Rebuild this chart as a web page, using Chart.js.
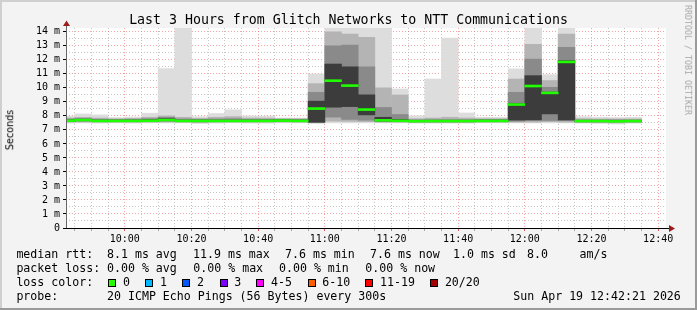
<!DOCTYPE html>
<html>
<head>
<meta charset="utf-8">
<script src="https://cdn.jsdelivr.net/npm/chart.js@4.4.1/dist/chart.umd.min.js"></script>
<style>
  html, body { margin: 0; padding: 0; background: #f3f3f3; }
  #wrap { position: relative; width: 697px; height: 310px; overflow: hidden; }
  #wrap canvas { position: absolute; left: 0; top: 0; }
  .txt { position: absolute; white-space: pre; line-height: 1; font-family: "DejaVu Sans Mono", monospace; color: #000; }
  .box { position: absolute; width: 8px; height: 8px; box-sizing: border-box; border: 1px solid #000; }
</style>
</head>
<body>
<div id="wrap">
  <canvas id="chart" width="697" height="310"></canvas>
</div>
<script>
// 5 minute slots (start time), 20 pings each
const slotStart = ['09:40', '09:45', '09:50', '09:55',
  '10:00', '10:05', '10:10', '10:15', '10:20', '10:25', '10:30', '10:35', '10:40', '10:45', '10:50', '10:55',
  '11:00', '11:05', '11:10', '11:15', '11:20', '11:25', '11:30', '11:35', '11:40', '11:45', '11:50', '11:55',
  '12:00', '12:05', '12:10', '12:15', '12:20', '12:25', '12:30'];

// smoke bands, in ms (outer = min/max, then narrower spreads round the median)
const minRtt = [7.48, 7.50, 7.48, 7.50, 7.48, 7.50, 7.50, 7.50, 7.45, 7.48, 7.50, 7.48, 7.48, 7.50, 7.50, 7.48,
  7.50, 7.50, 7.50, 7.50, 7.50, 7.48, 7.48, 7.48, 7.48, 7.50, 7.50, 7.50, 7.50, 7.50, 7.50, 7.48, 7.45, 7.42, 7.48];
const maxRtt = [7.98, 8.14, 8.07, 7.88, 7.92, 8.19, 11.37, 15.0, 7.95, 8.17, 8.43, 8.00, 7.98, 7.85, 7.85, 10.99,
  15.0, 14.24, 14.24, 15.0, 9.92, 8.00, 10.63, 13.55, 8.21, 7.90, 7.90, 11.35, 15.0, 10.94, 15.0, 7.95, 7.90, 7.88, 7.90];
const band1Lo = [7.55, 7.56, 7.55, 7.55, 7.55, 7.56, 7.56, 7.55, 7.52, 7.55, 7.56, 7.55, 7.55, 7.56, 7.55, 7.50,
  7.62, 7.60, 7.58, 7.55, 7.55, 7.53, 7.53, 7.53, 7.53, 7.55, 7.55, 7.55, 7.55, 7.58, 7.55, 7.53, 7.52, 7.50, 7.53];
const band1Hi = [7.85, 7.90, 7.85, 7.80, 7.82, 7.90, 8.00, 7.90, 7.82, 7.90, 7.95, 7.85, 7.84, 7.80, 7.80, 10.30,
  14.00, 13.84, 13.60, 10.00, 9.49, 7.80, 7.85, 7.90, 7.85, 7.80, 7.80, 10.63, 13.10, 10.52, 13.84, 7.80, 7.78, 7.78, 7.78];
const band2Lo = [7.60, 7.62, 7.60, 7.60, 7.60, 7.60, 7.62, 7.60, 7.58, 7.60, 7.60, 7.60, 7.60, 7.60, 7.60, 7.52,
  7.90, 7.75, 7.70, 7.60, 7.60, 7.57, 7.57, 7.57, 7.57, 7.60, 7.60, 7.62, 7.65, 7.67, 7.65, 7.57, 7.57, 7.56, 7.57];
const band2Hi = [7.78, 7.82, 7.76, 7.74, 7.76, 7.80, 7.90, 7.78, 7.76, 7.78, 7.80, 7.76, 7.76, 7.76, 7.74, 9.68,
  13.00, 13.05, 11.50, 8.60, 8.10, 7.72, 7.74, 7.74, 7.74, 7.74, 7.74, 9.68, 12.06, 10.04, 12.89, 7.72, 7.72, 7.72, 7.72];
const band3Lo = [7.63, 7.66, 7.63, 7.63, 7.63, 7.63, 7.66, 7.63, 7.62, 7.63, 7.63, 7.63, 7.63, 7.63, 7.63, 7.55,
  8.62, 8.66, 8.07, 7.63, 7.63, 7.60, 7.60, 7.60, 7.60, 7.63, 7.63, 7.70, 7.72, 8.14, 7.72, 7.60, 7.60, 7.60, 7.60];
const band3Hi = [7.72, 7.76, 7.70, 7.70, 7.70, 7.72, 7.80, 7.70, 7.70, 7.70, 7.70, 7.70, 7.70, 7.72, 7.70, 9.05,
  11.70, 11.50, 9.50, 7.90, 7.75, 7.67, 7.68, 7.68, 7.68, 7.70, 7.70, 8.90, 10.87, 9.70, 11.94, 7.68, 7.68, 7.68, 7.68];
const medianRtt = [7.66, 7.70, 7.64, 7.64, 7.64, 7.65, 7.70, 7.64, 7.64, 7.64, 7.64, 7.64, 7.64, 7.66, 7.64, 8.52,
  10.51, 10.16, 8.45, 7.68, 7.65, 7.62, 7.63, 7.63, 7.63, 7.64, 7.64, 8.81, 10.13, 9.64, 11.85, 7.63, 7.63, 7.61, 7.63];

const xLabels = ['10:00', '10:20', '10:40', '11:00', '11:20', '11:40', '12:00', '12:20', '12:40'];
const yLabels = ['0', '1 m', '2 m', '3 m', '4 m', '5 m', '6 m', '7 m', '8 m', '9 m', '10 m', '11 m', '12 m', '13 m', '14 m'];

const lossNames = ['0', '1', '2', '3', '4-5', '6-10', '11-19', '20/20'];
const lossColors = ['#26ff00', '#00b8ff', '#0059ff', '#7e00ff', '#ff00ff', '#ff5e00', '#ff0000', '#a10000'];

const toMin = s => { const [h, m] = s.split(':').map(Number); return h * 60 + m; };
const viewStart = toMin('09:42') + 21 / 60;   // 3 hours up to 12:42:21
const viewEnd = viewStart + 180;

const centres = slotStart.map(s => toMin(s) + 2.5);
const floating = (lo, hi) => centres.map((x, i) => ({ x, y: [lo[i], hi[i]] }));

const bandDataset = (lo, hi, color, order) => ({
  type: 'bar',
  data: floating(lo, hi),
  backgroundColor: color,
  borderWidth: 0,
  grouped: false,
  barPercentage: 1,
  categoryPercentage: 1,
  clip: 0,
  order
});

const medLo = medianRtt.map(v => v - 0.07);
const medHi = medianRtt.map(v => v + 0.07);

const redGrid = 'rgba(235, 90, 90, 0.55)';
const greyGrid = 'rgba(160, 160, 160, 0.6)';

const frame = {
  id: 'frame',
  beforeDraw(chart) {
    const { ctx, chartArea: a } = chart;
    ctx.save();
    ctx.fillStyle = '#f3f3f3';
    ctx.fillRect(0, 0, 697, 310);
    ctx.fillStyle = '#cfcfcf';
    ctx.fillRect(0, 0, 697, 2);
    ctx.fillRect(0, 0, 2, 310);
    ctx.fillStyle = '#9a9a9a';
    ctx.fillRect(0, 308, 697, 2);
    ctx.fillRect(695, 0, 2, 310);
    ctx.fillStyle = '#ffffff';
    ctx.fillRect(a.left, a.top, a.right - a.left, a.bottom - a.top);
    ctx.restore();
  },
  afterDraw(chart) {
    const { ctx, chartArea: a } = chart;
    ctx.save();
    ctx.strokeStyle = '#000';
    ctx.lineWidth = 1;
    ctx.beginPath();
    ctx.moveTo(a.left, a.bottom + 0.5);
    ctx.lineTo(670, a.bottom + 0.5);
    ctx.stroke();
    ctx.strokeStyle = '#666';
    ctx.beginPath();
    ctx.moveTo(a.left + 0.5, a.bottom);
    ctx.lineTo(a.left + 0.5, 25);
    ctx.stroke();
    ctx.fillStyle = '#9b1c1c';
    ctx.beginPath();
    ctx.moveTo(669, a.bottom - 3);
    ctx.lineTo(675, a.bottom + 0.5);
    ctx.lineTo(669, a.bottom + 4);
    ctx.closePath();
    ctx.fill();
    ctx.beginPath();
    ctx.moveTo(a.left - 3, 26);
    ctx.lineTo(a.left + 0.5, 20.5);
    ctx.lineTo(a.left + 4, 26);
    ctx.closePath();
    ctx.fill();
    ctx.restore();
  }
};

const tickFont = { family: 'DejaVu Sans Mono', size: 10 };

new Chart(document.getElementById('chart'), {
  type: 'bar',
  data: {
    datasets: [
      bandDataset(medLo, medHi, '#20ff00', 0),
      bandDataset(band3Lo, band3Hi, '#3c3c3c', 1),
      bandDataset(band2Lo, band2Hi, '#8a8a8a', 2),
      bandDataset(band1Lo, band1Hi, '#b4b4b4', 3),
      bandDataset(minRtt, maxRtt, '#dddddd', 4)
    ]
  },
  options: {
    responsive: false,
    animation: false,
    layout: { padding: { left: 20, right: 31, top: 28, bottom: 0 } },
    plugins: { legend: { display: false }, title: { display: false }, tooltip: { enabled: false } },
    scales: {
      x: {
        type: 'linear',
        min: viewStart,
        max: viewEnd,
        offset: false,
        z: 1,
        afterFit: s => { s.height = 82; s.paddingLeft = 0; s.paddingRight = 0; },
        afterBuildTicks: s => {
          const t = [];
          for (let v = Math.ceil(viewStart / 5) * 5; v < viewEnd; v += 5) t.push({ value: v });
          s.ticks = t;
        },
        ticks: {
          autoSkip: false, maxRotation: 0, padding: 2, color: '#000', font: tickFont,
          callback: v => (v % 20 === 0 ? xLabels[(v - 600) / 20] : '')
        },
        grid: {
          offset: false,
          color: c => (c.tick && c.tick.value % 20 === 0 ? redGrid : greyGrid),
          tickColor: c => (c.tick && c.tick.value % 20 === 0 ? '#e06060' : '#aaa'),
          tickLength: 3, lineWidth: 1
        },
        border: { display: false, dash: [1, 2] }
      },
      y: {
        min: 0,
        max: 14.27,
        z: 1,
        afterFit: s => { s.width = 46; },
        afterBuildTicks: s => {
          const t = [];
          for (let v = 0; v <= 14; v += 0.5) t.push({ value: v });
          s.ticks = t;
        },
        ticks: {
          autoSkip: false, padding: 3, color: '#000', font: tickFont,
          callback: v => (Number.isInteger(v) ? yLabels[v] : '')
        },
        grid: {
          color: c => (c.tick && Number.isInteger(c.tick.value) ? redGrid : greyGrid),
          tickColor: c => (c.tick && Number.isInteger(c.tick.value) ? '#000' : 'rgba(0,0,0,0)'),
          tickLength: 3, lineWidth: 1
        },
        border: { display: false, dash: [1, 2] }
      }
    }
  },
  plugins: [frame]
});

// text round the graph, as rrdtool lays it out
const wrap = document.getElementById('wrap');
function addText(str, x, top, size, extra) {
  const d = document.createElement('div');
  d.className = 'txt';
  d.textContent = str;
  d.style.left = x + 'px';
  d.style.top = top + 'px';
  d.style.fontSize = size + 'px';
  if (extra) Object.assign(d.style, extra);
  wrap.appendChild(d);
  return d;
}

addText('Last 3 Hours from Glitch Networks to NTT Communications', 0, 12.6, 13.25,
  { width: '697px', textAlign: 'center' });
addText('Seconds', 10, 130, 9.6,
  { fontFamily: '"DejaVu Sans", sans-serif', transform: 'translate(-50%, -50%) rotate(-90deg)' });
addText('RRDTOOL / TOBI OETIKER', 688, 60, 8.3,
  { color: '#a8a8a8', transform: 'translate(-50%, -50%) rotate(90deg)' });

const legRows = [249.1, 262.7, 276.7, 290.7];
const legSize = 11.6;
[
  ['median rtt:', 16.4, 0], ['8.1 ms avg', 107, 0], ['11.9 ms max', 193, 0], ['7.6 ms min', 285, 0],
  ['7.6 ms now', 370, 0], ['1.0 ms sd', 453, 0], ['8.0', 527, 0], ['am/s', 579.5, 0],
  ['packet loss:', 16.4, 1], ['0.00 % avg', 107, 1], ['0.00 % max', 193.3, 1], ['0.00 % min', 279, 1],
  ['0.00 % now', 365.3, 1],
  ['loss color:', 16.4, 2],
  ['probe:', 16.4, 3], ['20 ICMP Echo Pings (56 Bytes) every 300s', 107, 3], ['Sun Apr 19 12:42:21 2026', 513.3, 3]
].forEach(([s, x, r]) => addText(s, x, legRows[r], legSize));

const boxX = [108.4, 145.3, 182.2, 219.6, 256.4, 307.6, 365.3, 430.2];
lossNames.forEach((name, i) => {
  const b = document.createElement('div');
  b.className = 'box';
  b.style.left = boxX[i] + 'px';
  b.style.top = '278.5px';
  b.style.background = lossColors[i];
  wrap.appendChild(b);
  addText(name, boxX[i] + 14.7, legRows[2], legSize);
});
</script>
</body>
</html>
